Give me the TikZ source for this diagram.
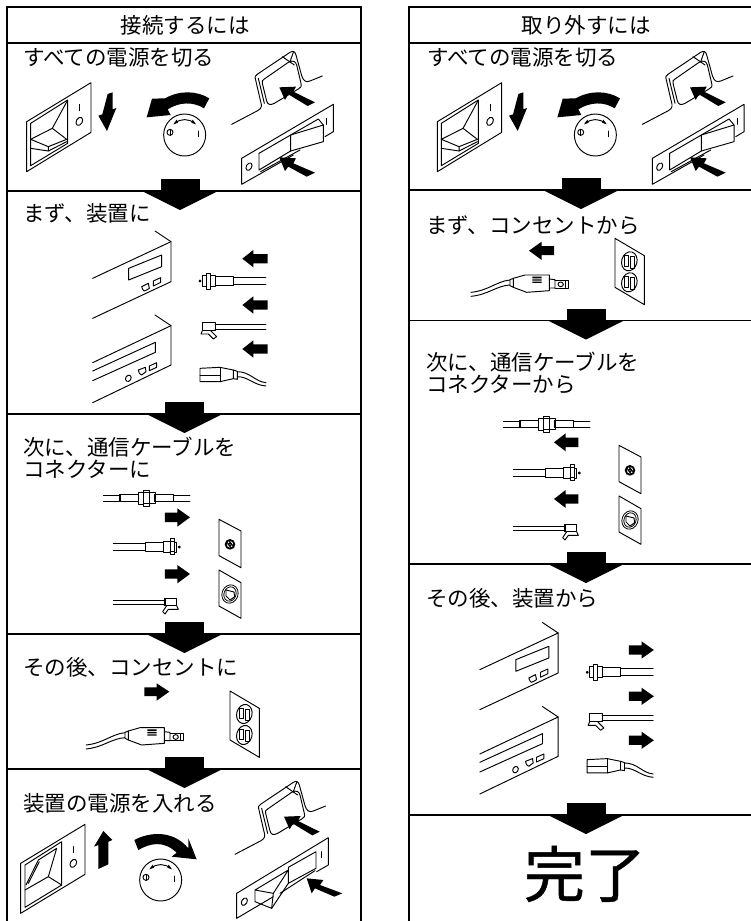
\documentclass[tikz,border=0pt]{standalone}
\usepackage{fontspec}
\setmainfont{Noto Sans CJK JP}
\newfontfamily\donefont[FakeBold=0.7]{Noto Sans CJK JP}
\newcommand{\txtsize}{\fontsize{21.5}{22}\selectfont}
\tikzset{
  ink/.style={line width=0.95pt,line join=round,line cap=round,draw=black},
  frameline/.style={line width=1.05pt,draw=black},
  label text/.style={anchor=base west,inner sep=0pt,font=\txtsize},
  head text/.style={anchor=base,inner sep=0pt,font=\txtsize},
  zoomed/.style={x=0.33333pt,y=-0.33333pt}
}
% ---- section arrow ----
\newcommand{\bigdown}[2]{%
  \fill (#1-19.5,#2-12) rectangle (#1+19.5,#2+1);
  \fill (#1-38,#2) -- (#1+38,#2) -- (#1,#2+19) -- cycle;}
% ---- small arrows, zoom units, centred on the base of the head ----
\newcommand{\arrowL}[4]{\fill (#1,#2+14) -- (#3,#2+14) -- (#3,#2-14) -- (#1,#2-14) -- (#1,#2-26) -- (#4,#2) -- (#1,#2+26) -- cycle;}
\newcommand{\arrowR}[4]{\fill (#1,#2+14) -- (#3,#2+14) -- (#3,#2-14) -- (#1,#2-14) -- (#1,#2-26) -- (#4,#2) -- (#1,#2+26) -- cycle;}
% ---- knob ----
\newcommand{\knob}{%
  \draw[ink] (0,0) circle[radius=63];
  \draw[ink] (-44,-8) circle[radius=9];
  \draw[ink] (-44,-17) -- (-44,1);
  \draw[ink] (40,-12) -- (40,5);
  \draw[ink] (-30,-35) .. controls (-12,-50) and (12,-50) .. (30,-35);
  \fill (-34,-32) -- (-20,-37) -- (-24,-46) -- cycle;
  \fill (34,-32) -- (20,-37) -- (24,-46) -- cycle;}
% ---- press-type outlet with its arrow, coordinates of crop 11 ----
\newcommand{\hood}{%
  \draw[ink] (20,238) -- (98,197) .. controls (112,190) and (110,180) .. (107,170) -- (92,105) .. controls (89,95) and (90,92) .. (98,87) -- (195,22) .. controls (205,16) and (210,20) .. (213,30) -- (230,92) .. controls (235,108) and (243,113) .. (255,108) -- (292,93);
  \draw[ink] (100,100) -- (118,175);
  \draw[ink] (118,102) -- (190,52) .. controls (205,44) and (212,50) .. (215,60) -- (228,115) .. controls (230,125) and (228,128) .. (220,132) -- (148,175) .. controls (135,182) and (128,178) .. (125,168) -- (112,115) .. controls (110,108) and (112,106) .. (118,102);
  \draw[ink] (172,35) -- (208,60);
  \draw[ink] (195,50) -- (205,22);}
\newcommand{\hoodarrow}{\fill (163,127) -- (213,125) -- (205,140) -- (270,172) -- (248,183) -- (190,148) -- (180,165) -- cycle;}
% ---- off group, coordinates of crop 1 ----
\newcommand{\offgroup}[2]{%
\begin{scope}[shift={(#1,#2)},zoomed]
  \draw[ink] (80,365) -- (273,248) -- (273,397) -- (80,515) -- cycle;
  \draw[ink] (92,370) -- (203,300) -- (203,430) -- (92,497) -- cycle;
  \draw[ink] (202,302) -- (157,385) -- (92,418) -- (145,440) -- (200,418);
  \draw[ink] (157,385) -- (200,418);
  \draw[ink] (145,440) -- (145,453) -- (200,425);
  \draw[ink] (92,445) -- (145,453);
  \draw[ink] (238,313) -- (238,332);
  \draw[ink] (238,364) ellipse [x radius=9,y radius=13,rotate=-30];
  \fill (323,282) -- (338,277) -- (338,328) -- (349,324) -- (321,393) -- (295,347) -- (307,343) -- cycle;
  \begin{scope}[shift={(554,405)}]\knob\end{scope}
  \fill (612,325) -- (628,295) .. controls (590,272) and (540,270) .. (495,295) -- (456,296) -- (440,352) -- (512,345) -- (503,328) .. controls (540,305) and (580,305) .. (612,325) -- cycle;
  \begin{scope}[shift={(675,135)}]
    \hood\hoodarrow
    \draw[ink] (50,340) -- (325,178) -- (325,260) -- (300,275);
    \draw[ink] (50,340) -- (50,418) -- (205,330);
    \draw[ink] (72,365) ellipse [x radius=8,y radius=12,rotate=-30];
    \draw[ink] (305,220) -- (305,238);
    \draw[ink] (102,325) -- (197,270) -- (280,222) -- (295,240) -- (295,290) -- (197,318) -- (197,270);
    \draw[ink] (197,270) -- (295,240);
    \draw[ink] (102,325) -- (102,375) -- (197,318);
    \draw[ink] (107,380) -- (225,315);
    \fill (163,337) -- (213,340) -- (205,355) -- (270,383) -- (245,395) -- (190,365) -- (180,378) -- cycle;
  \end{scope}
\end{scope}}
% ---- device pair and cable ends, coordinates of crop 2 ----
\newcommand{\coaxend}{%
  \draw[ink] (700,292) -- (798,292) (700,314) -- (798,314);
  \draw[ink] (600,303) circle[radius=3];
  \draw[ink] (608,287) rectangle (620,319);
  \draw[ink] (620,279) rectangle (630,327);
  \draw[ink] (630,285) rectangle (645,320);
  \draw[ink] (645,290) rectangle (700,316);
  \draw[line width=1.3pt] (647,290) -- (647,316) (700,290) -- (700,316);}
\newcommand{\modend}{%
  \draw[ink] (645,433) -- (798,433) (645,447) -- (798,447);
  \draw[ink] (607,428) rectangle (645,452);
  \draw[ink] (607,452) -- (603,462) -- (625,462) -- (640,477) -- (650,470) -- (632,452);}
\newcommand{\powerend}{%
  \draw[ink] (600,565) -- (600,605) -- (660,605) -- (700,596) -- (700,570) -- (660,562) -- cycle;
  \draw[ink] (660,562) -- (660,605) (600,585) -- (660,585);
  \draw[ink] (700,570) -- (712,574) -- (712,598) -- (700,596);
  \draw[ink] (712,575) .. controls (750,575) and (765,605) .. (798,608);
  \draw[ink] (712,590) .. controls (745,590) and (760,615) .. (798,618);}
\newcommand{\devices}{%
  \draw[ink] (465,153) -- (513,185) -- (513,305) -- (278,415);
  \draw[ink] (513,185) -- (278,295);
  \draw[ink] (386,265) -- (485,225) -- (485,260) -- (386,300) -- cycle;
  \draw[ink] (425,320) -- (445,310) -- (448,325) -- (440,330) -- (432,333) -- (428,328) -- cycle;
  \draw[ink] (460,303) -- (482,293) -- (482,307) -- (460,318) -- cycle;
  \draw[ink] (465,405) -- (513,437) -- (513,555) -- (278,668);
  \draw[ink] (513,437) -- (278,548);
  \draw[ink] (278,573) -- (466,487) -- (466,517) -- (278,602);
  \draw[ink] (385,595) ellipse [x radius=8,y radius=10,rotate=-30];
  \draw[ink] (415,570) -- (436,562) -- (438,575) -- (425,585) -- (418,580) -- cycle;
  \draw[ink] (448,558) -- (470,548) -- (470,562) -- (448,572) -- cycle;
  \coaxend\modend\powerend}
% ---- plates and cables of the connector step, coordinates of crop 3 ----
\newcommand{\coupler}{%
  \draw[ink] (310,285) -- (360,285) (310,303) -- (360,303);
  \draw[ink] (360,283) rectangle (415,305);
  \draw[line width=1.3pt] (360,283) -- (360,305) (415,283) -- (415,305);
  \draw[ink] (415,276) rectangle (430,312);
  \draw[ink] (430,270) rectangle (448,320);
  \draw[ink] (430,278) -- (448,278) (430,310) -- (448,310);
  \draw[ink] (448,278) rectangle (465,310);
  \draw[ink] (465,283) rectangle (520,305);
  \draw[line width=1.3pt] (465,283) -- (465,305) (520,283) -- (520,305);
  \draw[ink] (520,285) -- (570,285) (520,303) -- (570,303);
  % coax end
  \draw[ink] (340,430) -- (437,430) (340,452) -- (437,452);
  \draw[ink] (437,428) rectangle (490,454);
  \draw[line width=1.3pt] (437,428) -- (437,454) (490,428) -- (490,454);
  \draw[ink] (490,424) rectangle (510,458);
  \draw[ink] (510,415) rectangle (523,463);
  \draw[ink] (510,424) -- (523,424) (510,454) -- (523,454);
  \draw[ink] (523,426) rectangle (530,456);
  \draw[ink] (538,441) circle[radius=3];
  % modular end
  \draw[ink] (340,600) -- (495,600) (340,613) -- (495,613);
  \draw[line width=1.3pt] (495,595) -- (495,617);
  \draw[ink] (495,595) rectangle (530,617);
  \draw[ink] (530,617) -- (535,628) -- (505,628) -- (495,642) -- (488,635) -- (500,617);
  % plates
  \draw[ink] (657,358) -- (723,393) -- (723,503) -- (657,467) -- cycle;
  \draw[line width=1.8pt] (690,433) circle[radius=13];
  \draw[line width=1.3pt] (690,433) circle[radius=5];
  \draw[ink] (679,424) -- (695,446) (686,420) -- (702,442);
  \draw[ink] (657,510) -- (723,548) -- (723,655) -- (657,618) -- cycle;
  \draw[line width=0.8pt] (690,582) ellipse [x radius=24,y radius=28,rotate=-20];
  \draw[line width=0.8pt] (690,582) ellipse [x radius=18,y radius=22,rotate=-20];
  \draw[ink] (678,570) -- (702,576) -- (704,590) -- (690,600) -- (678,588) -- cycle;}
% ---- plug and wall outlet, coordinates of crop 4 ----
\newcommand{\recept}[2]{%
  \draw[ink] (#1,#2) ellipse [x radius=23,y radius=29,rotate=-15];
  \draw[ink] (#1-14,#2-18) rectangle (#1-3,#2+14);
  \draw[ink] (#1+4,#2-14) rectangle (#1+15,#2+20);}
\newcommand{\plugset}{%
  \draw[ink] (258,345) .. controls (310,340) and (335,312) .. (375,308);
  \draw[ink] (258,357) .. controls (310,352) and (335,325) .. (375,323);
  \draw[ink] (375,307) -- (385,303) -- (385,330) -- (375,325) -- cycle;
  \draw[ink] (385,303) -- (420,293) -- (493,293) -- (493,340) -- (425,345) -- (385,330);
  \fill (442,298) rectangle (470,303) (442,306) rectangle (470,310) (442,313) rectangle (470,317);
  \draw[ink] (493,305) -- (510,307) -- (510,332) -- (493,332);
  \draw[ink] (510,310) -- (550,310) -- (550,332) -- (510,332);
  \draw[ink] (527,321) ellipse [x radius=8,y radius=7];
  \draw[ink] (542,312) -- (542,330);
  \draw[ink] (690,183) -- (778,235) -- (778,382) -- (690,330) -- cycle;
  \recept{733}{252}\recept{733}{315}}
\begin{document}
\begin{tikzpicture}[x=1pt,y=-1pt]
\useasboundingbox (0,0) rectangle (751,921);
% frames
\draw[frameline] (7,921) -- (7,7) -- (361,7) -- (361,921);
\draw[frameline] (409,921) -- (409,7) -- (751,7);
\foreach \yy in {43,191,414,634,769} \draw[frameline] (7,\yy) -- (361,\yy);
\foreach \yy in {43,190,320.5,564,815} \draw[frameline] (409,\yy) -- (751,\yy);
% texts
\node[head text] (lhead) at (185,33) {接続するには};
\node[head text] (rhead) at (586,33) {取り外すには};
\node[label text] (l1) at (23,65) {すべての電源を切る};
\node[label text] (l2) at (23,221) {まず、装置に};
\node[label text] (l3a) at (23,455) {次に、通信ケーブルを};
\node[label text] (l3b) at (23,477) {コネクターに};
\node[label text] (l4) at (23,675) {その後、コンセントに};
\node[label text] (l5) at (23,811) {装置の電源を入れる};
\node[label text] (r1) at (427,65) {すべての電源を切る};
\node[label text] (r2) at (426,233) {まず、コンセントから};
\node[label text] (r3a) at (426,370) {次に、通信ケーブルを};
\node[label text] (r3b) at (426,392) {コネクターから};
\node[label text] (r4) at (426,606) {その後、装置から};
\node[anchor=base,inner sep=0pt,font=\donefont\fontsize{61}{61}\selectfont] (done) at (585,897) {完了};
% drawings
\offgroup{0}{0}
\offgroup{410.7}{0}
% left step 2
\begin{scope}[shift={(0,180)},zoomed]
  \devices
  \arrowL{760}{236}{803}{727}
  \arrowL{760}{375}{803}{727}
  \arrowL{760}{507}{803}{727}
\end{scope}
% right step 4
\begin{scope}[shift={(387.17,571.3)},zoomed]
  \devices
  \arrowR{763}{236}{725}{800}
  \arrowR{763}{375}{725}{800}
  \arrowR{763}{507}{725}{800}
\end{scope}
% left step 3
\begin{scope}[shift={(0,400)},zoomed]
  \coupler
  \fill (495,338) -- (532,338) -- (532,325) -- (570,352) -- (532,380) -- (532,366) -- (495,366) -- cycle;
  \fill (495,508) -- (532,508) -- (532,495) -- (570,522) -- (532,550) -- (532,536) -- (495,536) -- cycle;
\end{scope}
% right step 3
\begin{scope}[shift={(400,326)},zoomed]
  \coupler
  \fill (535,335) -- (497,335) -- (497,322) -- (462,349) -- (497,376) -- (497,363) -- (535,363) -- cycle;
  \fill (535,505) -- (497,505) -- (497,492) -- (462,519) -- (497,546) -- (497,533) -- (535,533) -- cycle;
\end{scope}
% left step 4
\begin{scope}[shift={(0,630)},zoomed]
  \plugset
  \fill (433,172) -- (470,172) -- (470,160) -- (508,185) -- (470,212) -- (470,198) -- (433,198) -- cycle;
\end{scope}
% right step 2
\begin{scope}[shift={(385,177.33)},zoomed]
  \plugset
\end{scope}
\begin{scope}[shift={(400,170)},zoomed]
  \fill (462,228) -- (425,228) -- (425,215) -- (387,242) -- (425,270) -- (425,255) -- (462,255) -- cycle;
\end{scope}
% left step 5
\begin{scope}[shift={(0,630)},zoomed]
  \draw[ink] (62,700) -- (255,583) -- (255,733) -- (62,850) -- cycle;
  \draw[ink] (75,705) -- (185,635) -- (185,765) -- (75,832) -- cycle;
  \draw[ink] (78,765) -- (115,690) -- (170,655) -- (145,740) -- (185,765);
  \draw[ink] (75,780) -- (145,740);
  \draw[ink] (85,760) -- (118,695);
  \draw[ink] (220,650) -- (220,668);
  \draw[ink] (220,700) ellipse [x radius=9,y radius=13,rotate=-30];
  \fill (310,603) -- (337,630) -- (325,635) -- (325,703) -- (295,717) -- (295,645) -- (282,650) -- cycle;
  \begin{scope}[shift={(482,750)}]\knob\end{scope}
  \fill (415,660) -- (403,630) .. controls (450,605) and (520,600) .. (565,655) -- (565,625) -- (590,688) -- (515,680) -- (530,668) .. controls (490,630) and (450,640) .. (415,660) -- cycle;
  \begin{scope}[shift={(685,435)}]\hood\end{scope}
  \begin{scope}[shift={(689,433)}]\hoodarrow\end{scope}
  \draw[ink] (710,790) -- (985,623) -- (985,705) -- (950,725);
  \draw[ink] (710,790) -- (710,865) -- (820,800);
  \draw[ink] (733,815) ellipse [x radius=8,y radius=12,rotate=-30];
  \draw[ink] (965,665) -- (965,683);
  \draw[ink] (865,712) -- (948,665) -- (948,715) -- (865,760);
  \draw[ink] (865,712) -- (865,720);
  \draw[ink] (765,780) -- (820,790) -- (865,720) -- (765,780) -- (765,815) -- (815,835) -- (820,790);
  \draw[ink] (815,835) -- (865,760) -- (865,720);
  \draw[ink] (840,790) -- (945,722);
  \fill (920,745) -- (970,750) -- (960,765) -- (1027,790) -- (1003,800) -- (945,775) -- (935,790) -- cycle;
\end{scope}
% section arrows
\bigdown{180}{191}
\bigdown{184.5}{414}
\bigdown{184.5}{634}
\bigdown{184.5}{769}
\bigdown{581}{190}
\bigdown{586}{320.5}
\bigdown{586}{564}
\bigdown{586}{815}
\end{tikzpicture}
\end{document}
